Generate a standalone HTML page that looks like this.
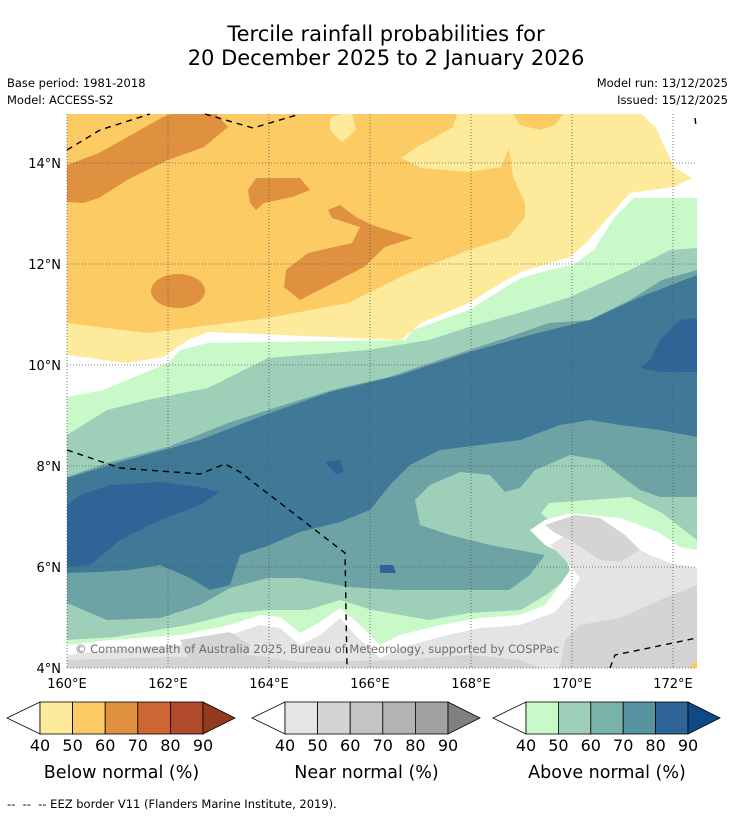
<!DOCTYPE html>
<html><head><meta charset="utf-8">
<style>
body{margin:0;background:#fff;font-family:"DejaVu Sans","Liberation Sans",sans-serif}
#root{position:relative;width:736px;height:816px;overflow:hidden}
.t{position:absolute;color:#000;white-space:nowrap}
</style></head>
<body><div id="root">
<div class="t" style="left:18px;width:736px;text-align:center;top:22px;font-size:21px;line-height:24px">Tercile rainfall probabilities for<br>20 December 2025 to 2 January 2026</div>
<div class="t" style="left:7px;top:76px;font-size:11.5px">Base period: 1981-2018</div>
<div class="t" style="left:7px;top:93px;font-size:11.5px">Model: ACCESS-S2</div>
<div class="t" style="right:8px;top:76px;font-size:11.5px">Model run: 13/12/2025</div>
<div class="t" style="right:8px;top:93px;font-size:11.5px">Issued: 15/12/2025</div>
<svg id="map" width="736" height="816" style="position:absolute;left:0;top:0"></svg>
<div class="t" style="left:7px;top:797px;font-size:11.5px">-- &nbsp;-- &nbsp;-- EEZ border V11 (Flanders Marine Institute, 2019).</div>
</div>
<script>
const lonTicks=[160,162,164,166,168,170,172];
const latTicks=[4,6,8,10,12,14];
const lonLabels=["160°E","162°E","164°E","166°E","168°E","170°E","172°E"];
const latLabels=["4°N","6°N","8°N","10°N","12°N","14°N"];
const barLevels=["40","50","60","70","80","90"];
const belowColors=["#feea9b","#fdcb64","#e0913f","#cc6633","#b04a2a","#923a20"];
const nearColors=["#e5e5e5","#d4d4d4","#c4c4c4","#b3b3b3","#a2a2a2","#808080"];
const aboveColors=["#c9f9c9","#9dcfb9","#7ab2ac","#5893a2","#2f6497","#0e4a85"];
const FONT='DejaVu Sans, Liberation Sans, sans-serif';
const X0=67,Y0=114,X1=697,Y1=668;
const lx=l=>67+(l-160)*50.5, ly=a=>668-(a-4)*50.5;
const svg=document.getElementById('map');
const NS='http://www.w3.org/2000/svg';
function mk(tag,at){const e=document.createElementNS(NS,tag);for(const k in at)e.setAttribute(k,at[k]);svg.appendChild(e);return e;}
function poly(pts,fill,name){const e=mk('polygon',{points:pts,fill:fill});

return e;}
const defs=mk('defs',{});defs.innerHTML='<clipPath id="c"><rect x="67" y="114" width="630" height="554"/></clipPath>';
const g=mk('g',{'clip-path':'url(#c)'});
function P(pts,fill,name){const e=poly(pts,fill,name);g.appendChild(e);return e;}
P("67,397 103,390 168,363 180,350 208,343 405,340 413,330 469,310 501,290 521,278 549,270 573,265 594,250 614,218 634,198 697,198 697,668 67,668","#c9f9c9","above-40");
P("67,435 107,410 147,400 208,388 268,358 368,350 429,340 469,327 529,310 570,297 630,270 670,250 697,248 697,540 662,513 630,497 549,503 541,513 570,540 573,573 549,593 521,610 469,613 429,620 372,610 340,600 308,610 268,610 236,613 188,625 115,637 67,640","#9dcfb9","above-50");
P("67,477 107,463 168,447 228,423 268,410 332,390 389,377 469,350 509,337 549,323 590,320 630,300 662,280 697,270 697,497 660,497 640,490 620,475 600,460 570,455 535,470 520,488 505,492 490,475 460,472 430,485 415,500 420,525 450,535 490,545 545,555 530,575 509,590 450,590 400,590 348,587 300,578 268,578 230,588 200,605 160,618 107,620 67,603","#6ea3a6","above-60");
P("67,478 120,462 200,440 270,413 330,392 400,375 470,352 530,335 590,320 640,297 697,275 697,437 660,430 620,425 590,420 560,425 520,440 480,445 440,450 410,465 390,485 370,510 340,522 300,532 270,545 240,555 230,585 210,590 190,578 160,565 130,570 100,572 67,573","#407898","above-70");
P("67,505 80,495 110,485 160,482 200,487 220,492 200,505 160,520 120,540 90,565 67,567","#2f6497","above-80-west");
P("697,318 680,320 660,340 650,360 640,368 660,372 697,372","#2f6497","above-80-east");
P("325,462 340,460 344,472 336,474","#2f6497","above-80-spot");
P("380,565 393,565 396,573 380,573","#2f6497","above-80-spot2");
P("67,645 110,640 180,635 230,625 260,615 280,617 300,633 320,622 340,608 360,625 380,645 400,635 440,625 480,618 520,615 545,605 560,585 570,570 565,555 545,545 530,530 545,520 570,513 620,518 640,525 660,533 680,547 697,550 697,668 67,668","#ffffff","white-gap-south");
P("67,655 110,650 180,645 230,635 260,625 280,628 300,645 320,635 340,618 355,635 380,658 400,648 440,637 480,628 520,625 555,612 570,595 580,578 565,560 550,545 575,530 610,530 630,545 650,555 670,563 697,568 697,668 67,668","#e4e4e4","near-40");
P("545,525 575,515 600,518 625,535 640,550 620,562 600,560 585,550 570,540 555,533","#d4d4d4","near-50-a");
P("560,668 565,640 580,625 620,618 660,600 697,585 697,668","#d4d4d4","near-50-b");
P("67,660 180,657 250,655 300,662 400,660 470,655 520,660 540,668 67,668","#d4d4d4","near-50-c");
P("180,640 230,632 250,645 245,660 190,660","#d4d4d4","near-50-d");
P("67,114 642,114 656,128 674,167 692,178 674,187 630,193 606,220 586,243 570,257 521,272 501,283 469,303 421,323 401,340 208,332 188,340 163,357 127,363 67,355","#feea9b","below-40");
P("67,114 457,114 453,127 417,147 401,158 421,168 469,172 501,167 509,148 513,177 525,203 525,217 509,237 469,250 409,273 348,303 268,318 147,333 67,323","#fdcb64","below-50");
P("513,114 520,125 540,130 555,125 563,114","#fdcb64","below-50-ne");
P("330,118 340,114 352,114 356,130 342,142 330,130","#feea9b","below-40-spot");
P("67,165 99,153 163,117 171,114 216,114 228,127 204,147 168,160 127,180 99,198 83,203 67,202","#e0913f","below-60-nw");
P("248,190 256,178 300,178 310,190 292,197 264,203 256,210 250,203","#e0913f","below-60-b");
P("328,210 340,205 356,217 372,225 413,238 385,247 364,267 300,300 284,287 286,270 308,253 352,243 360,227 332,218","#e0913f","below-60-c");
const el=mk('ellipse',{cx:178,cy:291,rx:27,ry:17,fill:'#e0913f'});g.appendChild(el);


P("688,668 697,660 697,668","#fdcb64","below-50-se");
lonTicks.forEach((l,i)=>{const x=lx(l);const e=mk('line',{x1:x,y1:Y0,x2:x,y2:Y1,stroke:'#555','stroke-width':0.8,'stroke-dasharray':'1,2'});


const t=mk('text',{x:x,y:688,'font-size':13,'text-anchor':'middle','font-family':FONT});t.textContent=lonLabels[i];

});
latTicks.forEach((a,i)=>{const y=ly(a);const e=mk('line',{x1:X0,y1:y,x2:X1,y2:y,stroke:'#555','stroke-width':0.8,'stroke-dasharray':'1,2'});


const t=mk('text',{x:61,y:y+5,'font-size':13,'text-anchor':'end','font-family':FONT});t.textContent=latLabels[i];

});
[["67,150 100,130 150,114"],["205,114 253,128 300,114"],["67,450 120,468 200,474 225,464 240,472 345,553 347,668"],["610,668 615,655 697,638"],["695,118 696,126"]].forEach(p=>{
const e=mk('polyline',{points:p[0],fill:'none',stroke:'#000','stroke-width':1.4,'stroke-dasharray':'6,5'});

});
const cp=mk('text',{x:75,y:653,'font-size':11.5,fill:'#6e6e6e','font-family':FONT});cp.textContent='© Commonwealth of Australia 2025, Bureau of Meteorology, supported by COSPPac';


function bar(x0,x1,x2,x3,cols,title,name){
const y0=702,y1=734,ym=718,w=(x2-x1)/5;
const a=mk('polygon',{points:`${x0},${ym} ${x1},${y0} ${x1},${y1}`,fill:'#fff',stroke:'#000','stroke-width':0.8});


for(let i=0;i<5;i++){const r=mk('rect',{x:x1+i*w,y:y0,width:w,height:y1-y0,fill:cols[i],stroke:'#000','stroke-width':0.8});

}
const b=mk('polygon',{points:`${x2},${y0} ${x3},${ym} ${x2},${y1}`,fill:cols[5],stroke:'#000','stroke-width':0.8});


barLevels.forEach((s,i)=>{const t=mk('text',{x:x1+i*w,y:751,'font-size':16,'text-anchor':'middle','font-family':FONT});t.textContent=s;

});
const t=mk('text',{x:(x1+x2)/2,y:778,'font-size':17.5,'text-anchor':'middle','font-family':FONT});t.textContent=title;

}
bar(7,40,203,235,belowColors,'Below normal (%)','below-colorbar');
bar(252,285,448,480,nearColors,'Near normal (%)','near-colorbar');
bar(493,526,688,720,aboveColors,'Above normal (%)','above-colorbar');
</script>
</body></html>
